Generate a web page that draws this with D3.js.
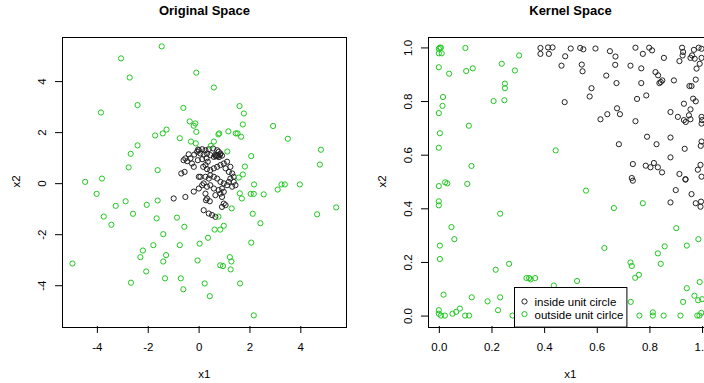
<!DOCTYPE html>
<html>
<head>
<meta charset="utf-8">
<script src="https://cdn.jsdelivr.net/npm/d3@7"></script>
<style>
  body { margin: 0; background: #fff; }
  text { font-family: "Liberation Sans", Arial, sans-serif; fill: #000; }
</style>
</head>
<body>
<div id="chart"></div>
<script>
// Original space: points inside / outside the unit circle, [x1, x2]
const origInside = [
  [0.01,1.29],[0.14,1.33],[0.27,1.29],[0.40,1.33],[0.57,1.36],[0.73,1.29],[0.79,1.23],[0.86,1.16],
  [0.66,1.12],[0.73,1.07],[0.60,1.03],[0.46,1.10],[0.33,1.16],[0.20,1.12],[0.07,1.16],[-0.06,1.23],
  [-0.17,1.12],[-0.32,0.97],[-0.52,0.97],[-0.59,0.90],[-0.45,0.86],[-0.26,0.77],[-0.19,0.64],[-0.03,0.90],
  [0.14,0.94],[0.31,0.97],[0.36,0.84],[0.27,0.71],[0.18,0.64],[0.33,0.55],[0.46,0.51],[0.60,0.58],
  [0.73,0.64],[0.86,0.71],[0.99,0.77],[1.12,0.84],[1.25,0.64],[1.06,0.58],[1.19,0.44],[1.32,0.38],
  [1.38,0.25],[1.25,0.18],[1.19,0.05],[1.38,0.05],[1.45,-0.08],[1.32,-0.14],[1.12,-0.08],[0.99,-0.01],
  [0.86,0.05],[0.73,0.18],[0.60,0.25],[0.46,0.31],[0.40,0.18],[0.27,0.25],[0.07,0.25],[0.20,-0.01],
  [0.14,-0.08],[0.33,-0.14],[0.46,-0.08],[0.60,-0.21],[0.79,-0.27],[0.92,-0.21],[0.99,-0.34],[0.92,-0.54],
  [0.99,-0.80],[1.06,-0.86],[0.92,-0.93],[-0.98,-0.60],[-0.52,-0.54],[0.01,0.25],[0.01,-0.21],[0.27,-0.41],
  [0.33,-0.60],[0.40,-1.19],[0.53,-1.25],[0.20,-1.06],[0.66,-1.32],[0.66,-0.47],[0.86,-0.41],[0.70,1.10],
  [0.78,1.08],[0.85,1.12],[0.68,1.05],[0.92,1.08],[0.80,1.02],[0.29,-0.67],[0.44,-0.71],[-0.19,-0.33],
  [-0.68,0.38],[-0.55,0.44],[-0.39,1.13],[-0.02,1.32]
];
const origOutside = [
  [-1.45,5.36],[-3.05,4.89],[-0.09,4.33],[-2.71,4.14],[0.60,3.75],[-3.84,2.77],[-2.40,3.06],[-0.60,2.95],
  [1.61,3.02],[1.78,2.73],[1.74,2.30],[2.93,2.24],[-0.35,2.42],[-0.19,2.25],[-0.13,2.34],[-0.09,2.01],
  [-1.26,2.10],[-1.41,1.95],[-1.71,1.87],[-0.74,1.76],[-0.30,1.63],[-0.11,1.56],[0.60,1.63],[0.48,1.46],
  [0.78,1.91],[0.81,1.95],[1.17,2.03],[1.46,1.95],[1.53,1.95],[1.67,1.82],[3.51,1.74],[-2.40,1.48],
  [-2.67,1.15],[4.81,1.31],[4.77,0.73],[2.07,1.06],[1.13,1.24],[1.82,0.65],[1.74,0.34],[1.58,0.22],
  [-2.75,0.62],[-1.61,0.51],[-3.80,0.18],[-4.46,0.05],[-4.01,-0.42],[2.18,-0.05],[1.62,-0.40],[1.70,-0.60],
  [2.05,-0.42],[2.17,-0.42],[2.56,-0.44],[3.26,-0.05],[3.39,-0.05],[3.11,-0.25],[3.98,-0.05],[5.41,-0.95],
  [4.66,-1.22],[-2.87,-0.71],[-3.26,-0.89],[-2.04,-0.85],[-1.61,-0.68],[-2.58,-1.20],[-3.73,-1.31],[-3.43,-1.63],
  [-1.65,-1.38],[-0.85,-1.35],[-0.56,-1.71],[1.30,-0.99],[0.78,-1.31],[2.13,-1.20],[2.43,-1.57],[0.63,-1.82],
  [0.85,-1.82],[0.99,-1.67],[-1.39,-2.00],[2.07,-2.33],[0.37,-2.14],[0.04,-2.37],[-1.78,-2.43],[-0.74,-2.43],
  [-2.19,-2.64],[-2.29,-2.90],[-1.28,-2.82],[-1.39,-3.07],[-0.04,-3.03],[1.23,-2.90],[1.29,-3.07],[-4.96,-3.15],
  [0.85,-3.22],[0.96,-3.25],[1.26,-3.38],[-2.06,-3.46],[-1.32,-3.73],[-0.70,-3.73],[-2.66,-3.90],[0.24,-3.93],
  [1.63,-3.93],[-0.60,-4.16],[0.44,-4.43],[2.17,-5.18]
];

// Kernel space: the same two groups after the mapping
const kernelInside = [
  [0.386,0.998],[0.415,1.0],[0.432,1.0],[0.386,0.976],[0.418,0.976],[0.480,0.967],[0.501,0.996],[0.537,0.998],
  [0.549,0.993],[0.595,0.996],[0.466,0.932],[0.543,0.936],[0.546,0.911],[0.478,0.796],[0.580,0.848],[0.573,0.817],
  [0.650,0.986],[0.671,0.966],[0.670,0.935],[0.636,0.895],[0.675,0.867],[0.747,0.999],[0.775,0.976],[0.799,0.999],
  [0.810,0.989],[0.855,0.961],[0.924,0.999],[0.928,0.983],[0.926,0.970],[0.914,0.949],[0.969,0.991],[0.987,0.999],
  [0.998,0.995],[0.956,0.961],[0.972,0.958],[0.962,0.970],[0.998,0.961],[0.991,0.939],[0.979,0.921],[0.728,0.932],
  [0.769,0.922],[0.823,0.908],[0.833,0.896],[0.838,0.867],[0.843,0.871],[0.849,0.877],[0.893,0.877],[0.976,0.880],
  [0.952,0.856],[0.960,0.856],[0.769,0.867],[0.788,0.821],[0.753,0.808],[0.966,0.809],[0.976,0.799],[0.931,0.790],
  [0.956,0.769],[0.677,0.773],[0.688,0.751],[0.640,0.751],[0.614,0.732],[0.747,0.725],[0.880,0.759],[0.908,0.741],
  [0.931,0.729],[0.938,0.722],[0.950,0.747],[0.956,0.732],[0.998,0.741],[1.0,0.729],[0.998,0.716],
  [0.791,0.667],[0.880,0.664],[0.684,0.639],[0.827,0.639],[0.934,0.622],[0.998,0.649],[0.995,0.633],[0.880,0.590],
  [0.737,0.565],[0.786,0.559],[0.804,0.553],[0.817,0.569],[0.832,0.553],[0.848,0.534],[0.914,0.528],[0.994,0.562],
  [0.984,0.544],[0.998,0.518],[0.733,0.513],[0.737,0.503],[0.937,0.509],[0.937,0.507],[0.900,0.468],[0.960,0.453],
  [0.880,0.422],[0.976,0.419],[0.996,0.425],[0.994,0.406]
];
const kernelOutside = [
  [0.004,0.999],[0.008,0.999],[0,0.995],[0,0.978],[0.011,0.978],[0,0.926],[0.039,0.902],[0.016,0.815],
  [0.014,0.782],[0,0.755],[0.004,0.680],[0,0.626],[0.024,0.497],[0.032,0.493],[0,0.483],[0,0.426],
  [0,0.411],[0.048,0.330],[0.059,0.285],[0.004,0.261],[0.004,0.211],[0.018,0.078],[0,0.020],[0,0.007],
  [0.008,0],[0.023,0],[0.052,0.007],[0.066,0.014],[0.080,0.026],[0.100,0],[0.115,0],[0.101,0.998],
  [0.104,0.912],[0.129,0.922],[0.239,0.939],[0.305,0.970],[0.289,0.914],[0.251,0.865],[0.251,0.848],[0.249,0.803],
  [0.208,0.800],[0.114,0.708],[0.124,0.558],[0.108,0.491],[0.233,0.380],[0.444,0.616],[0.559,0.466],[0.665,0.401],
  [0.775,0.419],[0.267,0.193],[0.216,0.171],[0.333,0.140],[0.343,0.140],[0.349,0.135],[0.366,0.140],[0.437,0.112],
  [0.525,0.129],[0.629,0.252],[0.728,0.198],[0.733,0.185],[0.746,0.141],[0.760,0.152],[0.832,0.232],[0.858,0.258],
  [0.843,0.193],[0.902,0.326],[0.942,0.261],[0.986,0.285],[0.942,0.102],[0.991,0.125],[0.971,0.074],[0.985,0.057],
  [1.0,0.061],[0.928,0.051],[0.729,0.051],[0.125,0.068],[0.185,0.053],[0.233,0.068],[0.225,0.020],[0.280,0],
  [0.762,0],[0.813,0.012],[0.813,0],[0.854,0],[0.918,0],[0.982,0],[0.990,0],[0.997,0.010]
];

const origTicks = [-4, -2, 0, 2, 4];
const kernelTicks = [0, 0.2, 0.4, 0.6, 0.8, 1.0];
const legendLabels = ['inside unit circle', 'outside unit cirlce'];

const width = 704, height = 383;
const plotTop = 36.7, plotBottom = 326.3, plotWidth = 284.3;
const insideColor = '#222', outsideColor = '#1ec81e';

const svg = d3.select('#chart')
  .append('svg')
  .attr('width', width)
  .attr('height', height)
  .style('display', 'block');

svg.append('rect').attr('width', width).attr('height', height).attr('fill', '#fff');

const panels = [
  { title: 'Original Space', left: 62.3, xDomain: [-5.36, 5.82], yDomain: [-5.61, 5.74],
    ticks: origTicks, fmt: d => String(d), inside: origInside, outside: origOutside },
  { title: 'Kernel Space', left: 428.3, xDomain: [-0.04, 1.04], yDomain: [-0.04, 1.04],
    ticks: kernelTicks, fmt: d3.format('.1f'), inside: kernelInside, outside: kernelOutside }
];

const scales = panels.map(p => {
  const x = d3.scaleLinear().domain(p.xDomain).range([p.left, p.left + plotWidth]);
  const y = d3.scaleLinear().domain(p.yDomain).range([plotBottom, plotTop]);

  // Title
  svg.append('text')
    .attr('x', p.left + plotWidth / 2)
    .attr('y', 15)
    .attr('text-anchor', 'middle')
    .style('font-size', '13px')
    .style('font-weight', 'bold')
    .text(p.title);

  // Box
  svg.append('rect')
    .attr('x', Math.round(p.left) + 0.5)
    .attr('y', Math.round(plotTop) + 0.5)
    .attr('width', Math.round(plotWidth))
    .attr('height', Math.round(plotBottom - plotTop))
    .attr('fill', 'none')
    .attr('stroke', '#000');

  // X axis
  svg.append('g')
    .attr('transform', `translate(0,${Math.round(plotBottom)})`)
    .call(d3.axisBottom(x).tickValues(p.ticks).tickSize(7).tickPadding(9.6).tickFormat(p.fmt))
    .attr('font-family', '"Liberation Sans", Arial, sans-serif')
    .attr('font-size', 11.5)
    .call(a => a.select('.domain').remove());

  // Y axis, labels parallel to the axis
  svg.append('g')
    .attr('transform', `translate(${Math.round(p.left)},0)`)
    .call(d3.axisLeft(y).tickValues(p.ticks).tickSize(7).tickFormat(p.fmt))
    .attr('font-family', '"Liberation Sans", Arial, sans-serif')
    .attr('font-size', 11.5)
    .call(a => a.select('.domain').remove())
    .selectAll('text')
    .attr('x', 0)
    .attr('y', -16)
    .attr('dy', 0)
    .attr('transform', 'rotate(-90)')
    .attr('text-anchor', 'middle');

  // Axis titles
  svg.append('text')
    .attr('x', p.left + plotWidth / 2)
    .attr('y', 377.5)
    .attr('text-anchor', 'middle')
    .style('font-size', '11.5px')
    .text('x1');

  svg.append('text')
    .attr('transform', `translate(${p.left - 42},${(plotTop + plotBottom) / 2}) rotate(-90)`)
    .attr('text-anchor', 'middle')
    .style('font-size', '11.5px')
    .text('x2');

  // Points
  const pts = svg.append('g').attr('fill', 'none').attr('stroke-width', 1);
  pts.selectAll('.inside')
    .data(p.inside)
    .enter()
    .append('circle')
    .attr('cx', d => x(d[0]))
    .attr('cy', d => y(d[1]))
    .attr('r', 2.6)
    .attr('stroke', insideColor);
  pts.selectAll('.outside')
    .data(p.outside)
    .enter()
    .append('circle')
    .attr('cx', d => x(d[0]))
    .attr('cy', d => y(d[1]))
    .attr('r', 2.6)
    .attr('stroke', outsideColor);

  return { x, y };
});

// Legend in the kernel panel, at the bottom
const kx = scales[1].x;
const lx = kx(0.285), lw = 112.4, lh = 39.6;
const legend = svg.append('g').attr('transform', `translate(${Math.round(lx) + 0.5},${Math.round(plotBottom - lh) + 0.5})`);
legend.append('rect')
  .attr('width', lw)
  .attr('height', lh)
  .attr('fill', '#fff')
  .attr('stroke', '#000');
legendLabels.forEach((label, i) => {
  legend.append('circle')
    .attr('cx', 10)
    .attr('cy', 14 + i * 12.6)
    .attr('r', 2.6)
    .attr('fill', 'none')
    .attr('stroke', i === 0 ? insideColor : outsideColor);
  legend.append('text')
    .attr('x', 20)
    .attr('y', 18.6 + i * 12.6)
    .style('font-size', '11.5px')
    .text(label);
});
</script>
</body>
</html>
